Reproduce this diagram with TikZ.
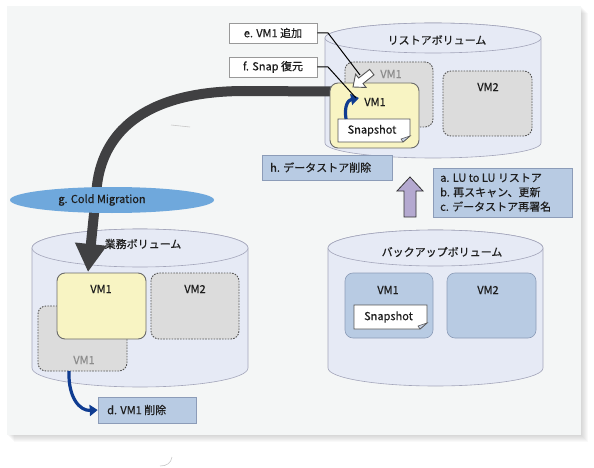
\documentclass[tikz,border=0pt]{standalone}
\usepackage{fontspec}
\setmainfont{Noto Sans CJK JP}[FakeBold=0.5,AutoFakeBold=0.5]
\usetikzlibrary{arrows.meta,calc,shapes.geometric}
\definecolor{panel}{HTML}{F4F6F6}
\definecolor{cylfill}{HTML}{E6EAF5}
\definecolor{cylline}{HTML}{A3A5BA}
\definecolor{yel}{HTML}{F8F4C3}
\definecolor{yelline}{HTML}{6B6B6B}
\definecolor{ghost}{HTML}{DCDCDC}
\definecolor{ghostline}{HTML}{555555}
\definecolor{bluebox}{HTML}{B8CBE3}
\definecolor{blueline}{HTML}{8C9CB8}
\definecolor{ellc}{HTML}{6FA8DC}
\definecolor{purp}{HTML}{B4A9D0}
\definecolor{bigc}{HTML}{404042}
\definecolor{darkblue}{HTML}{0F3C91}
\definecolor{txt}{HTML}{1E1E1E}
\definecolor{foldc}{HTML}{C9D3E6}
\tikzset{
  every node/.style={font=\fontsize{11}{13}\selectfont, text=txt, inner sep=0pt},
  cyl/.style={fill=cylfill, draw=cylline, line width=0.6pt},
  yelbox/.style={rectangle, rounded corners=8pt, fill=yel, draw=yelline, line width=0.9pt},
  ghostbox/.style={rectangle, rounded corners=8pt, fill=ghost, draw=ghostline, line width=0.9pt, dash pattern=on 1.6pt off 1.2pt},
  bbox/.style={rectangle, rounded corners=8pt, fill=bluebox, draw=blueline, line width=0.6pt},
  lbox/.style={rectangle, fill=bluebox, draw=blueline, line width=0.6pt},
  wbox/.style={rectangle, fill=white, draw=gray!80, line width=0.8pt},
  greytxt/.style={text=gray!90},
  leader/.style={draw=black, line width=1pt},
  bluearrow/.style={draw=darkblue, line width=3.2pt, -{Triangle[width=11pt,length=8pt]}},
  bigarrow/.style={draw=bigc, line width=10pt, -{Triangle[width=30pt,length=28pt]}},
}
\newcommand\drawcyl[5]{% cx, rx, ytop, ybot, ry (y negative)
  \path[cyl] ({#1-#2},#3) -- ({#1-#2},#4) arc[start angle=180,end angle=360,x radius=#2,y radius=#5] -- ({#1+#2},#3) arc[start angle=0,end angle=180,x radius=#2,y radius=#5] -- cycle;
  \draw[cyl] (#1,#3) ellipse[x radius=#2,y radius=#5];
}
\newcommand\snapnote[5]{% name, x1, y1, x2, y2 (y negative, y1 top)
  \filldraw[fill=white, draw=ghostline, line width=0.8pt] (#2,#3) -- (#4,#3) -- (#4,{#5+6}) -- ({#4-7},#5) -- (#2,#5) -- cycle;
  \filldraw[fill=foldc, draw=ghostline, line width=0.6pt] (#4,{#5+6}) -- ({#4-9},{#5+3}) -- ({#4-7},#5) -- cycle;
  \node (#1) at ({(#2+#4)/2-2},{(#3+#5)/2}) {Snapshot};
}
\begin{document}
\begin{tikzpicture}[x=1pt,y=1pt]
\useasboundingbox (0,0) rectangle (594,-468);
% panel with shadow
\foreach \i in {1,...,7} \fill[black,opacity=0.022] (7+\i,-6-\i) rectangle (581+\i,-435-\i);
\fill[panel] (7,-6) rectangle (581,-435);
\draw[gray!45, line width=0.6pt] (160,-466) .. controls (167,-466) and (171,-463) .. (172,-457);
\draw[gray!45, line width=0.6pt] (171,-125) -- (190,-127);

% cylinders
\drawcyl{433}{108}{-38}{-143}{15}
\drawcyl{140}{108}{-248}{-368}{19}
\drawcyl{435.5}{107.5}{-248}{-368}{18}
\node (rlabel) at (437,-40) {リストアボリューム};
\node (blabel) at (143,-244) {業務ボリューム};
\node (klabel) at (442,-252) {バックアップボリューム};

% restore volume content
\node[ghostbox, minimum width=88pt, minimum height=65pt] (rghost) at (389,-94.5) {};
\node[greytxt] (rghostt) at (391,-74) {VM1};
\node[ghostbox, minimum width=89pt, minimum height=65pt] (rvm2) at (487.5,-103.5) {};
\node (rvm2t) at (488,-87) {VM2};

% big arrow (cold migration)
\coordinate (tip) at (88,-272);
\draw[bigarrow] (331,-91.5) -- (245,-91) .. controls (150,-91) and (104,-128) .. (97,-185) -- (tip);

\node[yelbox, minimum width=89pt, minimum height=65pt] (rvm1) at (374.5,-115.5) {};
\node (rvm1t) at (375,-102) {VM1};
\snapnote{rsnap}{338}{-119}{410}{-142}

% white arrow (e)
\filldraw[fill=white, draw=ghostline, line width=0.9pt, shift={(353,-87)}, rotate=218.3]
  (0,0) -- (-10,-8.5) -- (-10,-3.5) -- (-24,-3.5) -- (-24,3.5) -- (-10,3.5) -- (-10,8.5) -- cycle;
\coordinate (eend) at (360,-75);

% blue arrow (f)
\coordinate (fstart) at (346,-119);
\coordinate (fend) at (359,-98);
\draw[bluearrow] (fstart) .. controls (344,-106) and (348,-100) .. (fend);

% label boxes e, f
\node[wbox, minimum width=88pt, minimum height=20pt] (ebox) at (273,-33) {e. VM1 追加};
\node[wbox, minimum width=88pt, minimum height=20pt] (fbox) at (273,-67) {f. Snap 復元};
\draw[leader] (ebox.east) -- (328,-33) -- (eend);
\draw[leader] (fbox.east) -- (328,-67) -- (356,-98);

% h box
\node[lbox, minimum width=130pt, minimum height=25pt] (hbox) at (327,-167.5) {};
\node[anchor=west] (htext) at (270,-167.5) {h. データストア削除};

% a b c box
\node[lbox, minimum width=139pt, minimum height=49pt] (abox) at (502.5,-192.5) {};
\node[anchor=west, align=left, font=\fontsize{11}{14.5}\selectfont] (atext) at (440,-192.5) {a. LU to LU リストア\\b. 再スキャン、更新\\c. データストア再署名};

% purple arrow
\filldraw[fill=purp, draw=black!80, line width=0.8pt] (404,-217) -- (404,-191) -- (397,-191) -- (410,-177) -- (423,-191) -- (416,-191) -- (416,-217) -- cycle;

% business volume content
\node[ghostbox, minimum width=89pt, minimum height=65pt] (bghost) at (82.5,-338.5) {};
\node[greytxt] (bghostt) at (84,-360) {VM1};
\node[yelbox, minimum width=89pt, minimum height=66pt] (bvm1) at (101.5,-306) {};
\node (bvm1t) at (101,-289) {VM1};
\node[ghostbox, minimum width=88pt, minimum height=66pt] (bvm2) at (195,-306) {};
\node (bvm2t) at (195,-289) {VM2};

% backup volume content
\node[bbox, minimum width=88pt, minimum height=65pt] (kvm1) at (389,-305.5) {};
\node (kvm1t) at (388,-290) {VM1};
\node[bbox, minimum width=89pt, minimum height=65pt] (kvm2) at (491.5,-305.5) {};
\node (kvm2t) at (488,-290) {VM2};
\snapnote{ksnap}{354}{-305}{427}{-329}

% cold migration ellipse
\node[ellipse, fill=ellc, minimum width=204pt, minimum height=26pt] (cold) at (112,-200) {};
\node (coldt) at (102,-200) {g. Cold Migration};

% d arrow and box
\node[lbox, minimum width=98pt, minimum height=26pt] (dbox) at (147,-410) {};
\node[anchor=west] (dtext) at (107,-410) {d. VM1 削除};
\coordinate (dstart) at (69,-371);
\draw[bluearrow] (dstart) .. controls (68,-398) and (80,-411) .. (dbox.west);
\end{tikzpicture}
\end{document}
